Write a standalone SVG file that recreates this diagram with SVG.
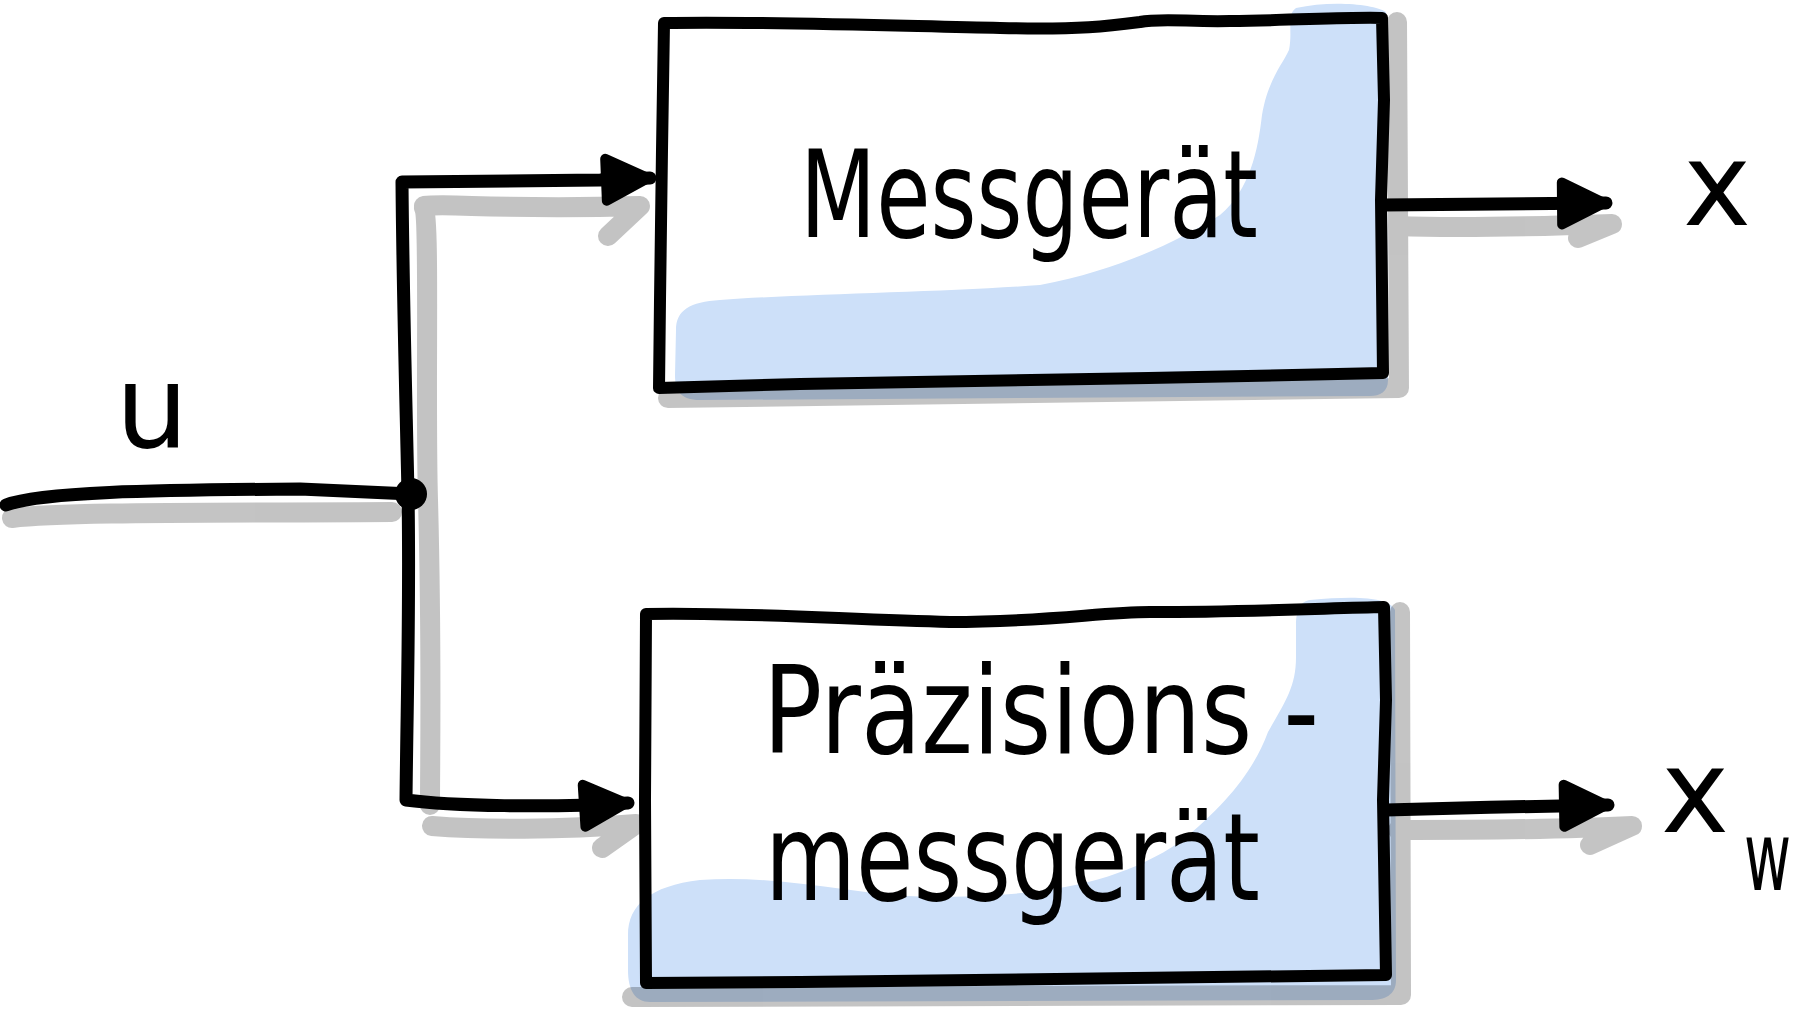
<svg xmlns="http://www.w3.org/2000/svg" width="1800" height="1012" viewBox="0 0 1800 1012">
<defs>
<style>
.ln{fill:none;stroke:#000;stroke-width:13;stroke-linecap:round;stroke-linejoin:round}
.box{fill:#fff;stroke:none}
.edge{fill:none;stroke:#000;stroke-width:12;stroke-linejoin:round;stroke-linecap:round}
.blue{fill:#cde0f9}
.sh{fill:none;stroke:#000;stroke-width:20;stroke-linecap:round;stroke-linejoin:round}
.lbl{font-family:"DejaVu Sans","Liberation Sans",sans-serif;font-weight:normal;fill:#000}
</style>
<marker id="ah" viewBox="0 0 56 56" refX="52" refY="28" markerWidth="56" markerHeight="56" markerUnits="userSpaceOnUse" orient="auto">
<path d="M8,7 L50,28 L8,49 Z" fill="#000" stroke="#000" stroke-width="10" stroke-linejoin="round"/>
</marker>
</defs>
<rect width="1800" height="1012" fill="#fff"/>

<g id="box-messgeraet">
<path class="box" d="M664,23 C760,21 900,26 1000,28 C1080,30 1110,26 1140,22 C1160,18 1190,22 1230,21 C1300,20 1350,17 1382,18 L1384,100 L1381,200 L1383,373 C1200,378 900,382 800,384 L659,388 L660,300 L662,150 Z"/>
<path class="blue" d="M1296,8 C1330,0 1375,4 1386,12 L1388,380 C1388,392 1380,396 1370,396 L700,400 C680,400 675,390 675,375 L676,330 C676,310 690,302 720,300 C800,294 950,292 1040,285 C1120,270 1180,240 1220,215 C1250,190 1258,150 1262,115 C1268,80 1282,65 1289,50 C1293,30 1286,15 1296,8 Z"/>
</g>
<g id="box-praezision">
<path class="box" d="M646,614 C750,612 850,620 950,622 C1050,622 1100,612 1150,612 C1250,612 1330,608 1384,607 L1386,700 L1383,800 L1386,975 C1200,978 1000,980 800,982 L646,983 L645,800 L646,614 Z"/>
<path class="blue" d="M1310,600 C1360,595 1390,598 1395,610 L1396,980 C1396,995 1385,1000 1370,1000 L650,1002 C635,1002 628,990 628,970 L628,935 C628,905 650,886 700,880 C780,874 850,895 930,897 C1050,897 1120,882 1180,842 C1230,802 1255,767 1268,732 C1285,702 1296,687 1296,657 L1296,625 C1296,608 1302,601 1310,600 Z"/>
</g>

<g id="shadows" opacity="0.23">
<path class="sh" d="M1397,22 L1399,388 L668,398"/>
<path class="sh" d="M1400,612 L1401,995 L632,997"/>
<path class="sh" d="M12,518 C60,512 200,513 392,512"/>
<path class="sh" d="M424,208 C430,220 425,400 428,500 C432,650 430,750 430,805"/>
<path class="sh" d="M424,206 C450,203 500,210 640,206 L608,236"/>
<path class="sh" d="M432,826 C480,830 560,830 636,824 L602,848"/>
<path class="sh" d="M1398,226 C1450,228 1520,227 1612,224 L1578,238"/>
<path class="sh" d="M1398,830 C1450,830 1550,830 1632,826 L1590,845"/>
</g>

<g id="box-strokes">
<path class="edge" d="M664,23 C760,21 900,26 1000,28 C1080,30 1110,26 1140,22 C1160,18 1190,22 1230,21 C1300,20 1350,17 1382,18 L1384,100 L1381,200 L1383,373 C1200,378 900,382 800,384 L659,388 L660,300 L662,150 Z"/>
<path class="edge" d="M646,614 C750,612 850,620 950,622 C1050,622 1100,612 1150,612 C1250,612 1330,608 1384,607 L1386,700 L1383,800 L1386,975 C1200,978 1000,980 800,982 L646,983 L645,800 L646,614 Z"/>
</g>

<g id="connectors">
<path class="ln" d="M6,505 C40,492 150,490 300,489 L411,494"/>
<path class="ln" d="M408,494 C406,400 403,300 402,182 L600,180 L650,178" marker-end="url(#ah)"/>
<path class="ln" d="M408,494 C410,600 407,700 406,800 C450,806 550,808 628,803" marker-end="url(#ah)"/>
<path class="ln" d="M1383,205 L1606,203" marker-end="url(#ah)"/>
<path class="ln" d="M1386,810 C1450,808 1550,806 1608,805" marker-end="url(#ah)"/>
<circle cx="411" cy="494" r="16" fill="#000"/>
</g>

<g id="labels">
<text class="lbl" x="800" y="237" font-size="122" textLength="458" lengthAdjust="spacingAndGlyphs">Messgerät</text>
<text class="lbl" x="763" y="753" font-size="122" textLength="556" lengthAdjust="spacingAndGlyphs">Präzisions -</text>
<text class="lbl" x="765" y="900" font-size="122" textLength="495" lengthAdjust="spacingAndGlyphs">messgerät</text>
<text class="lbl" x="152" y="447" font-size="115" text-anchor="middle">u</text>
<text class="lbl" x="1717" y="225" font-size="115" text-anchor="middle">x</text>
<text class="lbl" x="1695" y="832" font-size="115" text-anchor="middle">x</text>
<text class="lbl" transform="translate(1744,890) scale(0.6,1)" x="0" y="0" font-size="96">w</text>
</g>
</svg>
